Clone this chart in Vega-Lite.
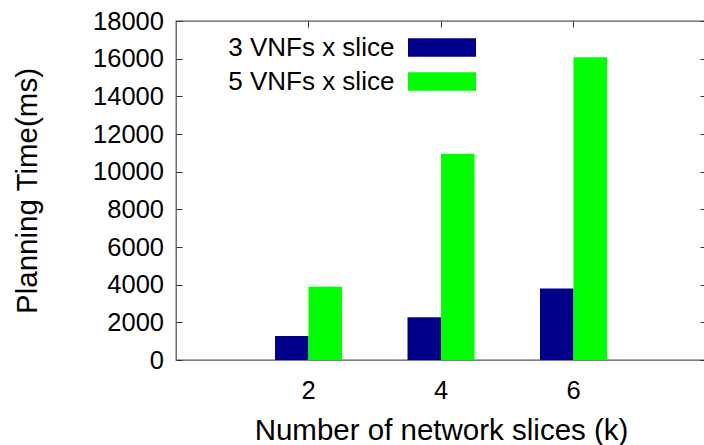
{
  "$schema": "https://vega.github.io/schema/vega-lite/v6.json",
  "width": 530,
  "height": 339,
  "autosize": {"type": "none"},
  "padding": {"left": 176, "top": 21, "right": 0, "bottom": 85},
  "background": "white",
  "config": {
    "view": {"stroke": "#555555", "strokeWidth": 1.3},
    "font": "Liberation Sans",
    "axis": {
      "domain": false,
      "grid": false,
      "tickColor": "#333333",
      "tickWidth": 1,
      "tickSize": -6,
      "labelFont": "Liberation Sans",
      "labelFontSize": 25.5,
      "labelColor": "#000000",
      "titleFont": "Liberation Sans",
      "titleFontSize": 29.5,
      "titleFontWeight": "normal",
      "titleColor": "#000000"
    }
  },
  "data": {
    "values": [
      {"k": "2", "series": "3 VNFs x slice", "time": 1270},
      {"k": "2", "series": "5 VNFs x slice", "time": 3890},
      {"k": "4", "series": "3 VNFs x slice", "time": 2270},
      {"k": "4", "series": "5 VNFs x slice", "time": 10950},
      {"k": "6", "series": "3 VNFs x slice", "time": 3800},
      {"k": "6", "series": "5 VNFs x slice", "time": 16070}
    ]
  },
  "layer": [
    {
      "mark": {"type": "bar"},
      "encoding": {
        "x": {
          "field": "k",
          "type": "ordinal",
          "scale": {"paddingInner": 0, "paddingOuter": 0.5},
          "axis": {
            "orient": "bottom",
            "labelAngle": 0,
            "ticks": false,
            "labelBaseline": "alphabetic",
            "labelPadding": 38,
            "title": "Number of network slices (k)",
            "titleBaseline": "alphabetic",
            "titleAnchor": "middle",
            "titleX": 265,
            "titleY": 79
          }
        },
        "xOffset": {
          "field": "series",
          "type": "nominal",
          "sort": ["3 VNFs x slice", "5 VNFs x slice"],
          "scale": {"paddingInner": 0, "paddingOuter": 0.978}
        },
        "y": {
          "field": "time",
          "type": "quantitative",
          "scale": {"domain": [0, 18000], "nice": false},
          "axis": {
            "orient": "left",
            "format": "d",
            "values": [0, 2000, 4000, 6000, 8000, 10000, 12000, 14000, 16000, 18000],
            "labelPadding": 18.5,
            "title": "Planning Time(ms)",
            "titleAngle": -90,
            "titleAlign": "center",
            "titleBaseline": "alphabetic",
            "titleX": -139.5,
            "titleY": 169.5
          }
        },
        "color": {
          "field": "series",
          "type": "nominal",
          "scale": {"domain": ["3 VNFs x slice", "5 VNFs x slice"], "range": ["#00008b", "#00ff00"]},
          "legend": {
            "title": null,
            "orient": "none",
            "legendX": 253,
            "legendY": 13.5,
            "padding": 0,
            "symbolType": "M-3.4,-0.93H3.4V0.93H-3.4Z",
            "symbolSize": 400,
            "symbolStrokeWidth": 0,
            "symbolOpacity": 1,
            "labelAlign": "right",
            "labelOffset": -60.6,
            "labelFont": "Liberation Sans",
            "labelFontSize": 26,
            "labelColor": "#000000",
            "labelLimit": 400,
            "rowPadding": 8
          }
        }
      }
    },
    {
      "mark": {"type": "bar", "opacity": 0},
      "encoding": {
        "x": {
          "field": "k",
          "type": "ordinal",
          "axis": {"orient": "top", "labels": false, "title": null, "ticks": true}
        },
        "y": {
          "field": "time",
          "type": "quantitative",
          "axis": {
            "orient": "right",
            "labels": false,
            "title": null,
            "values": [0, 2000, 4000, 6000, 8000, 10000, 12000, 14000, 16000, 18000]
          }
        }
      }
    }
  ],
  "resolve": {"axis": {"x": "independent", "y": "independent"}}
}
